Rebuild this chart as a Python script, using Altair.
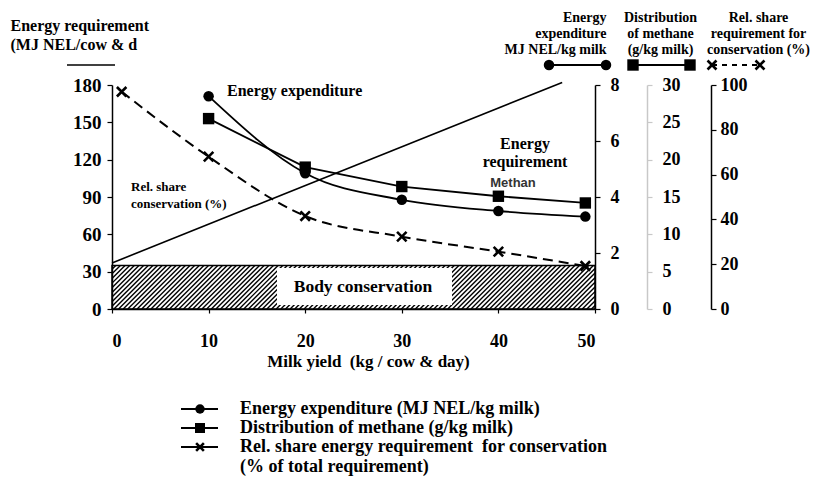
import altair as alt
import numpy as np
import pandas as pd

# ---- values -------------------------------------------------------------
# Energy requirement (MJ NEL / cow & day) rises linearly with milk yield
req_yield = [0, 46.6]
req_energy = [37, 182]

# Requirement for body conservation (MJ NEL / cow & day)
conservation_level = 35

# Milk yield (kg / cow & day) at the measured points
milk_yield = [10, 20, 30, 40, 49]
share_yield = [1, 10, 20, 30, 40, 49]

expenditure = [7.6, 4.85, 3.9, 3.5, 3.3]          # MJ NEL / kg milk
methane = [25.5, 19.0, 16.4, 15.1, 14.2]          # g / kg milk
rel_share = [97, 68, 41.5, 32.3, 25.6, 19.2]      # % of total requirement

x_ticks = [0, 10, 20, 30, 40, 50]
left_ticks = [0, 30, 60, 90, 120, 150, 180]
exp_ticks = [0, 2, 4, 6, 8]
meth_ticks = [0, 5, 10, 15, 20, 25, 30]
share_ticks = [0, 20, 40, 60, 80, 100]

# ---- tables ---------------------------------------------------------------
req_df = pd.DataFrame({"yield": req_yield, "energy": req_energy})
exp_df = pd.DataFrame({"yield": milk_yield, "value": expenditure})
meth_df = pd.DataFrame({"yield": milk_yield, "value": methane})
share_df = pd.DataFrame({"yield": share_yield, "value": rel_share})
bar_df = pd.DataFrame({"x0": [0], "x1": [50], "y0": [0], "y1": [conservation_level]})

# diagonal hatching of the body-conservation block (45 degree strokes)
hatch_start = np.arange(-4.6, 50.0, 0.48)
hatch_df = pd.DataFrame({
    "x0": hatch_start,
    "x1": hatch_start + 4.51,
    "y0": 0.0,
    "y1": float(conservation_level),
})

# ---- styling --------------------------------------------------------------
W, H = 483, 224
SERIF = "Liberation Serif"
SANS = "Liberation Sans"

xscale = alt.Scale(domain=[0, 50], nice=False, zero=False)
left_scale = alt.Scale(domain=[0, 180], nice=False)

xaxis = alt.Axis(
    values=x_ticks, tickSize=4, labelPadding=19, grid=False,
    labelFont=SERIF, labelFontSize=18, labelFontWeight="bold", labelColor="black",
    domainColor="black", tickColor="black", domainWidth=1.5, tickWidth=1.2,
    title="Milk yield \u00a0(kg / cow & day)", titleFont=SERIF, titleFontSize=17,
    titleFontWeight="bold", titleColor="black", titleX=256, titleY=44,
    titleAlign="center", titleBaseline="top",
)


def X(field):
    return alt.X(f"{field}:Q", scale=xscale, axis=xaxis)


def right_axis(ticks, offset, title, title_x, align, pad, color="black"):
    return alt.Axis(
        orient="right", offset=offset, values=ticks, tickSize=5, labelPadding=pad,
        grid=False, labelFont=SERIF, labelFontSize=18, labelFontWeight="bold",
        labelColor="black", domainColor=color, tickColor=color, domainWidth=1.5,
        tickWidth=1.2, title=title, titleAngle=0, titleX=title_x, titleY=-75,
        titleAlign=align, titleBaseline="top", titleFont=SERIF, titleFontSize=14,
        titleFontWeight="bold", titleColor="black", titleLineHeight=16,
    )


left_axis = alt.Axis(
    orient="left", values=left_ticks, tickSize=5, labelPadding=6, grid=False,
    labelFont=SERIF, labelFontSize=19, labelFontWeight="bold", labelColor="black",
    domainColor="black", tickColor="black", domainWidth=1.5, tickWidth=1.2,
    title=["Energy requirement", "(MJ NEL/cow & d"], titleAngle=0,
    titleX=-102, titleY=-68, titleAlign="left", titleBaseline="top",
    titleFont=SERIF, titleFontSize=16, titleFontWeight="bold", titleColor="black",
    titleLineHeight=19,
)

X_SHAPE = "M-1,-1L1,1M-1,1L1,-1"

# ---- body conservation block ---------------------------------------------
block_hatch = alt.Chart(hatch_df).mark_rule(
    clip=True, color="black", strokeWidth=1.4
).encode(
    x=X("x0"), x2="x1",
    y=alt.Y("y0:Q", scale=left_scale, axis=None), y2="y1",
)

block_outline = alt.Chart(bar_df).mark_rect(
    fill=None, stroke="black", strokeWidth=1.5
).encode(
    x=X("x0"), x2="x1",
    y=alt.Y("y0:Q", scale=left_scale, axis=None), y2="y1",
)

label_box = alt.Chart(bar_df).mark_rect(fill="white").encode(
    x=alt.value(165), x2=alt.value(340), y=alt.value(183), y2=alt.value(220)
)

label_text = alt.Chart(bar_df).mark_text(
    font=SERIF, fontSize=17.5, fontWeight="bold", color="black"
).encode(x=alt.value(251), y=alt.value(202), text=alt.value("Body conservation"))

# ---- series ---------------------------------------------------------------
req_line = alt.Chart(req_df).mark_line(color="black", strokeWidth=1.6).encode(
    x=X("yield"),
    y=alt.Y("energy:Q", scale=left_scale, axis=left_axis),
)

exp_scale = alt.Scale(domain=[0, 8], nice=False)
exp_line = alt.Chart(exp_df).mark_line(
    color="black", strokeWidth=1.8, interpolate="monotone"
).encode(
    x=X("yield"),
    y=alt.Y("value:Q", scale=exp_scale,
            axis=right_axis(exp_ticks, 0, ["Energy", "expenditure", "MJ NEL/kg milk"], 11, "right", 10)),
)
exp_pts = alt.Chart(exp_df).mark_point(
    shape="circle", filled=True, color="black", size=110, opacity=1
).encode(x=X("yield"), y=alt.Y("value:Q", scale=exp_scale, axis=None))

meth_scale = alt.Scale(domain=[0, 30], nice=False)
meth_line = alt.Chart(meth_df).mark_line(color="black", strokeWidth=1.8).encode(
    x=X("yield"),
    y=alt.Y("value:Q", scale=meth_scale,
            axis=right_axis(meth_ticks, 52, ["Distribution", "of methane", "(g/kg milk)"], 13, "center", 10, "#c8c8c8")),
)
meth_pts = alt.Chart(meth_df).mark_point(
    shape="square", filled=True, color="black", size=130, opacity=1
).encode(x=X("yield"), y=alt.Y("value:Q", scale=meth_scale, axis=None))

share_scale = alt.Scale(domain=[0, 100], nice=False)
share_line = alt.Chart(share_df).mark_line(
    color="black", strokeWidth=2, strokeDash=[10, 6], interpolate="monotone"
).encode(
    x=X("yield"),
    y=alt.Y("value:Q", scale=share_scale,
            axis=right_axis(share_ticks, 116, ["Rel. share", "requirement for", "conservation (%)"], 47, "center", 4)),
)
share_pts = alt.Chart(share_df).mark_point(
    shape=X_SHAPE, filled=False, color="black", size=90, strokeWidth=2.6, opacity=1
).encode(x=X("yield"), y=alt.Y("value:Q", scale=share_scale, axis=None))

# ---- annotations ----------------------------------------------------------
def note(text, x, y, size, align="left", font=SERIF, color="black", line_height=None):
    return alt.Chart(bar_df).mark_text(
        font=font, fontSize=size, fontWeight="bold", color=color, align=align,
        baseline="middle", lineBreak="\n",
        lineHeight=line_height if line_height else size + 4,
    ).encode(x=alt.value(x), y=alt.value(y), text=alt.value(text))


notes = [
    note("Energy expenditure", 115, 6, 16),
    note("Rel. share\nconservation (%)", 19, 102, 13),
    note("Energy\nrequirement", 413, 59, 16, align="center", line_height=18),
    note("Methan", 401, 98, 13, align="center", font=SANS, color="#333333"),
]

# short bar above the left axis labels
top_bar = alt.Chart(bar_df).mark_rule(color="black", strokeWidth=1.6).encode(
    x=alt.value(-45), x2=alt.value(3), y=alt.value(-20)
)


def key_line(x0, x1, y, dash=None):
    kw = {"color": "black", "strokeWidth": 1.8}
    if dash:
        kw["strokeDash"] = dash
    return alt.Chart(bar_df).mark_rule(**kw).encode(
        x=alt.value(x0), x2=alt.value(x1), y=alt.value(y)
    )


def key_point(x, y, shape, size, filled=True):
    kw = {"shape": shape, "filled": filled, "color": "black", "size": size, "opacity": 1}
    if not filled:
        kw["strokeWidth"] = 2.6
    return alt.Chart(bar_df).mark_point(**kw).encode(x=alt.value(x), y=alt.value(y))


# keys under the right-hand axis headings
header_keys = [
    key_line(437, 494, -20),
    key_point(437, -20, "circle", 110), key_point(494, -20, "circle", 110),
    key_line(521, 578, -20),
    key_point(521, -20, "square", 130), key_point(578, -20, "square", 130),
    key_line(600, 648, -20, dash=[5, 5]),
    key_point(600, -20, X_SHAPE, 80, filled=False), key_point(648, -20, X_SHAPE, 80, filled=False),
]

# legend below the chart
legend_rows = [
    ("Energy expenditure (MJ NEL/kg milk)", "circle", 90, True),
    ("Distribution of methane (g/kg milk)", "square", 100, True),
    ("Rel. share energy requirement \u00a0for conservation", X_SHAPE, 60, False),
]
legend_layers = []
for i, (label, shape, size, filled) in enumerate(legend_rows):
    ly = 324 + 19 * i
    legend_layers += [
        key_line(69, 106, ly),
        key_point(88, ly, shape, size, filled),
        note(label, 128, ly, 18),
    ]
legend_layers.append(note("(% of total requirement)", 128, 382, 18))

chart = alt.layer(
    req_line,
    exp_line,
    meth_line,
    share_line,
    block_hatch,
    block_outline,
    label_box,
    label_text,
    exp_pts,
    meth_pts,
    share_pts,
    top_bar,
    *notes,
    *header_keys,
    *legend_layers,
).resolve_scale(y="independent").properties(
    width=W,
    height=H,
    autosize=alt.AutoSizeParams(type="none"),
    padding={"left": 112, "top": 85, "right": 219, "bottom": 175},
    background="white",
).configure_view(stroke=None)

chart.save("out.html", embed_options={"renderer": "svg", "actions": False})
